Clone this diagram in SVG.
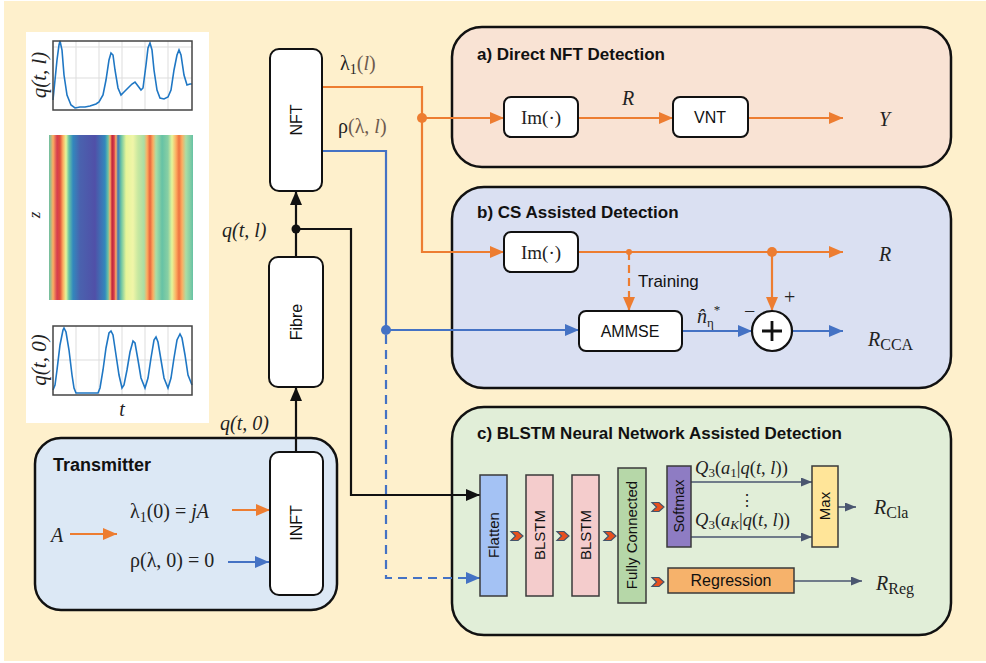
<svg xmlns="http://www.w3.org/2000/svg" width="986" height="663" viewBox="0 0 986 663">
<defs>
<style>
.panel{stroke:#111;stroke-width:2.5}
.box{fill:#fff;stroke:#111;stroke-width:2}
.lay{stroke:#3a3a3a;stroke-width:1.5}
.ttl{font-family:"Liberation Sans",Arial,sans-serif;font-weight:bold;fill:#111}
.sans{font-family:"Liberation Sans",Arial,sans-serif;fill:#111}
.math{font-family:"Liberation Serif","DejaVu Serif",serif;fill:#222}
.it{font-style:italic}
.or{stroke:#ED7D31;stroke-width:2.2;fill:none}
.bl{stroke:#4472C4;stroke-width:2.2;fill:none}
.bk{stroke:#111;stroke-width:2.2;fill:none}
.sl{stroke:#4A5670;stroke-width:1.6;fill:none}
</style>
<marker id="ao" markerWidth="14" markerHeight="12" refX="14" refY="6" orient="auto" markerUnits="userSpaceOnUse"><path d="M0,0 L14,6 L0,12 z" fill="#ED7D31"/></marker>
<marker id="ab" markerWidth="14" markerHeight="12" refX="14" refY="6" orient="auto" markerUnits="userSpaceOnUse"><path d="M0,0 L14,6 L0,12 z" fill="#4472C4"/></marker>
<marker id="ak" markerWidth="14" markerHeight="12" refX="14" refY="6" orient="auto" markerUnits="userSpaceOnUse"><path d="M0,0 L14,6 L0,12 z" fill="#111"/></marker>
<marker id="as" markerWidth="11" markerHeight="9" refX="11" refY="4.5" orient="auto" markerUnits="userSpaceOnUse"><path d="M0,0 L11,4.5 L0,9 z" fill="#4A5670"/></marker>
<path id="chev" d="M-6,-4.5 L1,-4.5 L6,0 L1,4.5 L-6,4.5 L-1.5,0 z" fill="#E8501E" stroke="#44546A" stroke-width="1.2"/>
<linearGradient id="heat" gradientUnits="userSpaceOnUse" x1="49" y1="0" x2="193" y2="0">
<stop offset="0" stop-color="#66C2A5"/>
<stop offset="0.028" stop-color="#FDAE61"/>
<stop offset="0.056" stop-color="#D53E4F"/>
<stop offset="0.076" stop-color="#E04C3A"/>
<stop offset="0.097" stop-color="#FDAE61"/>
<stop offset="0.118" stop-color="#E6F598"/>
<stop offset="0.139" stop-color="#66C2A5"/>
<stop offset="0.167" stop-color="#3288BD"/>
<stop offset="0.215" stop-color="#4A62AE"/>
<stop offset="0.32" stop-color="#5050A8"/>
<stop offset="0.389" stop-color="#3288BD"/>
<stop offset="0.41" stop-color="#66C2A5"/>
<stop offset="0.424" stop-color="#FDAE61"/>
<stop offset="0.438" stop-color="#C0243A"/>
<stop offset="0.452" stop-color="#D53E4F"/>
<stop offset="0.465" stop-color="#FDAE61"/>
<stop offset="0.479" stop-color="#3F75B8"/>
<stop offset="0.5" stop-color="#66C2A5"/>
<stop offset="0.535" stop-color="#E6F598"/>
<stop offset="0.583" stop-color="#F0F5A8"/>
<stop offset="0.618" stop-color="#C8E8A0"/>
<stop offset="0.66" stop-color="#ABDDA4"/>
<stop offset="0.681" stop-color="#FDAE61"/>
<stop offset="0.701" stop-color="#E8643C"/>
<stop offset="0.722" stop-color="#FDAE61"/>
<stop offset="0.743" stop-color="#ABDDA4"/>
<stop offset="0.785" stop-color="#66C2A5"/>
<stop offset="0.826" stop-color="#88CFA4"/>
<stop offset="0.854" stop-color="#E6F598"/>
<stop offset="0.882" stop-color="#FDAE61"/>
<stop offset="0.903" stop-color="#EE7340"/>
<stop offset="0.924" stop-color="#FDAE61"/>
<stop offset="0.951" stop-color="#ABDDA4"/>
<stop offset="1" stop-color="#66C2A5"/>
</linearGradient>
</defs>

<rect x="0" y="0" width="986" height="663" fill="#fff"/>
<rect x="4" y="1" width="982" height="660" fill="#FEF0CC"/>

<!-- left plots -->
<g id="plots">
<rect x="26" y="32" width="183" height="391" fill="#fff"/>
<g stroke="#ddd" stroke-width="1">
<path d="M76,41V110M99,41V110M122,41V110M145,41V110M168,41V110M53,47H192M53,78H192"/>
<path d="M76,326V395M99,326V395M122,326V395M145,326V395M168,326V395M53,360H192"/>
</g>
<polyline fill="none" stroke="#1F77C4" stroke-width="1.6" points="53,100 55,80 57,60 59,45 60,41 62,50 64,75 67,95 71,105 75,108 80,107 85,107 90,106 96,104 99,102 103,95 106,80 109,60 111,53 113,55 115,70 118,88 121,95 124,92 128,88 132,84 135,82 138,86 141,90 143,88 146,65 148,48 150,43 152,50 154,70 157,90 160,98 164,99 168,97 171,90 174,70 177,55 179,50 181,55 184,75 187,85 190,84 192,84"/>
<polyline fill="none" stroke="#1F77C4" stroke-width="1.6" points="53,390 55,385 57,370 60,345 63,330 64,328 66,332 69,350 72,375 74,388 76,393 98,393 100,388 103,370 106,348 109,333 111,331 113,335 116,355 119,375 122,388 124,385 127,370 130,352 133,341 135,343 138,360 141,378 145,388 148,378 151,358 154,340 156,337 158,342 161,360 164,378 168,388 171,378 174,358 177,340 180,334 182,338 185,355 188,375 192,385"/>
<rect x="53" y="41" width="139" height="69" fill="none" stroke="#444" stroke-width="1.5"/>
<rect x="53" y="326" width="139" height="69" fill="none" stroke="#444" stroke-width="1.5"/>
<rect x="49" y="135" width="144" height="165" fill="url(#heat)"/>
<text class="math it" transform="translate(46,75) rotate(-90)" text-anchor="middle" style="font-size:21px">q(t, l)</text>
<text class="math it" transform="translate(40,215) rotate(-90)" text-anchor="middle" style="font-size:17px">z</text>
<text class="math it" transform="translate(46,360) rotate(-90)" text-anchor="middle" style="font-size:21px">q(t, 0)</text>
<text class="math it" x="122" y="416" text-anchor="middle" style="font-size:20px">t</text>
</g>

<!-- panels -->
<g id="panel-a"><rect class="panel" x="452" y="27" width="499" height="140" rx="30" fill="#F9E3D4"/>
<text class="ttl" x="477" y="60" style="font-size:17px">a) Direct NFT Detection</text></g>
<g id="panel-b"><rect class="panel" x="452" y="187" width="499" height="201" rx="32" fill="#DAE0F2"/>
<text class="ttl" x="477" y="218" style="font-size:17px">b) CS Assisted Detection</text></g>
<g id="panel-c"><rect class="panel" x="452" y="407" width="499" height="228" rx="32" fill="#E1EED8"/>
<text class="ttl" x="477" y="439" style="font-size:17px">c) BLSTM Neural Network Assisted Detection</text></g>
<g id="transmitter"><rect class="panel" x="35" y="438" width="302" height="172" rx="26" fill="#DCE8F5"/>
<text class="ttl" x="53" y="471" style="font-size:18px">Transmitter</text></g>

<!-- connectors -->
<g id="connectors">
<path class="bk" d="M296,452V387" marker-end="url(#ak)"/>
<path class="bk" d="M296,257V191" marker-end="url(#ak)"/>
<path class="bk" d="M296,229H351V495H480" marker-end="url(#ak)"/>
<circle cx="296" cy="229" r="4.5" fill="#111"/>
<path class="or" d="M322,87H422V252H504" marker-end="url(#ao)"/>
<path class="or" d="M422,118H504" marker-end="url(#ao)"/>
<circle cx="422" cy="118" r="5" fill="#ED7D31"/>
<path class="or" d="M578,118H673" marker-end="url(#ao)"/>
<path class="or" d="M748,118H843" marker-end="url(#ao)"/>
<path class="or" d="M578,252H843" marker-end="url(#ao)"/>
<path class="or" d="M629,252V311" stroke-dasharray="8,5" marker-end="url(#ao)"/>
<circle cx="629" cy="252" r="3" fill="#ED7D31"/>
<path class="or" d="M772,252V311" marker-end="url(#ao)"/>
<circle cx="772" cy="252" r="5" fill="#ED7D31"/>
<path class="bl" d="M322,151H386V330H579" marker-end="url(#ab)"/>
<circle cx="386" cy="330" r="5" fill="#4472C4"/>
<path class="bl" d="M386,335V578H480" stroke-dasharray="9,6" marker-end="url(#ab)"/>
<path class="bl" d="M682,331H752" marker-end="url(#ab)"/>
<path class="bl" d="M792,331H843" marker-end="url(#ab)"/>
<path class="or" d="M70,534H117" marker-end="url(#ao)"/>
<path class="or" d="M232,510H270" marker-end="url(#ao)"/>
<path class="bl" d="M228,562H269" marker-end="url(#ab)"/>
<path class="sl" d="M691,482H812" marker-end="url(#as)"/>
<path class="sl" d="M691,537H812" marker-end="url(#as)"/>
<path class="sl" d="M838,507H856" marker-end="url(#as)"/>
<path class="sl" d="M794,581H862" marker-end="url(#as)"/>
<use href="#chev" x="517" y="536"/>
<use href="#chev" x="563" y="536"/>
<use href="#chev" x="610" y="536"/>
<use href="#chev" x="658" y="507"/>
<use href="#chev" x="658" y="582"/>
</g>

<!-- nodes -->
<g id="nft"><rect class="box" x="270" y="49" width="52" height="142" rx="9"/>
<text class="sans" style="font-size:16px" transform="translate(302,120) rotate(-90)" text-anchor="middle">NFT</text></g>
<g id="fibre"><rect class="box" x="269" y="257" width="54" height="130" rx="9"/>
<text class="sans" style="font-size:16px" transform="translate(302,322) rotate(-90)" text-anchor="middle">Fibre</text></g>
<g id="inft"><rect class="box" x="270" y="452" width="53" height="143" rx="9"/>
<text class="sans" style="font-size:16px" transform="translate(302,523) rotate(-90)" text-anchor="middle">INFT</text></g>
<g id="im-a"><rect class="box" x="504" y="97" width="74" height="40" rx="7"/>
<text class="math" x="541" y="124" text-anchor="middle" style="font-size:19px">Im(·)</text></g>
<g id="vnt"><rect class="box" x="673" y="97" width="75" height="40" rx="7"/>
<text class="sans" x="710" y="123" text-anchor="middle" style="font-size:16px">VNT</text></g>
<g id="im-b"><rect class="box" x="504" y="232" width="74" height="40" rx="7"/>
<text class="math" x="541" y="259" text-anchor="middle" style="font-size:19px">Im(·)</text></g>
<g id="ammse"><rect class="box" x="579" y="311" width="103" height="40" rx="7"/>
<text class="sans" x="630" y="337" text-anchor="middle" style="font-size:16px">AMMSE</text></g>
<g id="sum"><circle cx="772" cy="331" r="20" fill="#fff" stroke="#111" stroke-width="2.2"/>
<path d="M762,331H782M772,321V341" stroke="#111" stroke-width="2.8"/></g>
<g id="flatten"><rect class="lay" x="480" y="475" width="27" height="121" fill="#A4C2F4"/>
<text class="sans" style="font-size:15px" transform="translate(499,535) rotate(-90)" text-anchor="middle">Flatten</text></g>
<g id="blstm1"><rect class="lay" x="526" y="475" width="27" height="121" fill="#F4CCCC"/>
<text class="sans" style="font-size:15px" transform="translate(545,535) rotate(-90)" text-anchor="middle">BLSTM</text></g>
<g id="blstm2"><rect class="lay" x="572" y="475" width="27" height="121" fill="#F4CCCC"/>
<text class="sans" style="font-size:15px" transform="translate(591,535) rotate(-90)" text-anchor="middle">BLSTM</text></g>
<g id="fc"><rect class="lay" x="618" y="468" width="28" height="135" fill="#B6D7A8"/>
<text class="sans" style="font-size:15px" transform="translate(637,535) rotate(-90)" text-anchor="middle">Fully Connected</text></g>
<g id="softmax"><rect class="lay" x="667" y="466" width="24" height="81" fill="#8E7CC3"/>
<text class="sans" style="font-size:14.5px" transform="translate(684,506) rotate(-90)" text-anchor="middle">Softmax</text></g>
<g id="max"><rect class="lay" x="812" y="466" width="26" height="81" fill="#FFE599"/>
<text class="sans" style="font-size:15px" transform="translate(830,506) rotate(-90)" text-anchor="middle">Max</text></g>
<g id="regression"><rect class="lay" x="668" y="568" width="126" height="25" fill="#F6B26B"/>
<text class="sans" x="731" y="586" text-anchor="middle" style="font-size:16px">Regression</text></g>

<!-- labels -->
<g id="labels">
<text class="math" x="340" y="70" style="font-size:20px">λ<tspan font-size="14" dy="4">1</tspan><tspan dy="-4" fill="#6E5A4E">(</tspan><tspan class="it" fill="#6E5A4E">l</tspan><tspan fill="#6E5A4E">)</tspan></text>
<text class="math" x="338" y="133" style="font-size:20px">ρ<tspan fill="#6E5A4E">(λ, </tspan><tspan class="it" fill="#6E5A4E">l</tspan><tspan fill="#6E5A4E">)</tspan></text>
<text class="math it" x="222" y="237" style="font-size:20px">q(t, l)</text>
<text class="math it" x="220" y="430" style="font-size:20px">q(t, 0)</text>
<text class="math it" x="51" y="542" style="font-size:20px">A</text>
<text class="math" x="130" y="518" style="font-size:20px">λ<tspan font-size="14" dy="4">1</tspan><tspan dy="-4">(0) = </tspan><tspan class="it">jA</tspan></text>
<text class="math" x="130" y="567" style="font-size:20px">ρ(λ, 0) = 0</text>
<text class="math it" x="622" y="105" style="font-size:20px">R</text>
<text class="math it" x="879" y="126" style="font-size:20px">Y</text>
<text class="math it" x="879" y="261" style="font-size:20px">R</text>
<text class="sans" x="638" y="287" style="font-size:17px">Training</text>
<text class="math" x="784" y="304" style="font-size:20px">+</text>
<text class="math" x="744" y="318" style="font-size:20px">−</text>
<text class="math" x="697" y="323" style="font-size:20px"><tspan class="it">n̂</tspan><tspan font-size="13" dy="4">η</tspan><tspan font-size="13" dy="-13">*</tspan></text>
<text class="math" x="868" y="346" style="font-size:20px"><tspan class="it">R</tspan><tspan font-size="16" dy="4">CCA</tspan></text>
<text class="math" x="695" y="474" style="font-size:18.5px"><tspan class="it">Q</tspan><tspan font-size="13" dy="3">3</tspan><tspan dy="-3">(</tspan><tspan class="it">a</tspan><tspan font-size="13" dy="3">1</tspan><tspan dy="-3">|</tspan><tspan class="it">q</tspan>(<tspan class="it">t</tspan>, <tspan class="it">l</tspan>))</text>
<text class="math" x="695" y="526" style="font-size:18.5px"><tspan class="it">Q</tspan><tspan font-size="13" dy="3">3</tspan><tspan dy="-3">(</tspan><tspan class="it">a</tspan><tspan class="it" font-size="13" dy="3">K</tspan><tspan dy="-3">|</tspan><tspan class="it">q</tspan>(<tspan class="it">t</tspan>, <tspan class="it">l</tspan>))</text>
<text class="math" x="747" y="506" text-anchor="middle" style="font-size:16px">⋮</text>
<text class="math" x="874" y="514" style="font-size:20px"><tspan class="it">R</tspan><tspan font-size="16" dy="4">Cla</tspan></text>
<text class="math" x="876" y="590" style="font-size:20px"><tspan class="it">R</tspan><tspan font-size="16" dy="4">Reg</tspan></text>
</g>
</svg>
